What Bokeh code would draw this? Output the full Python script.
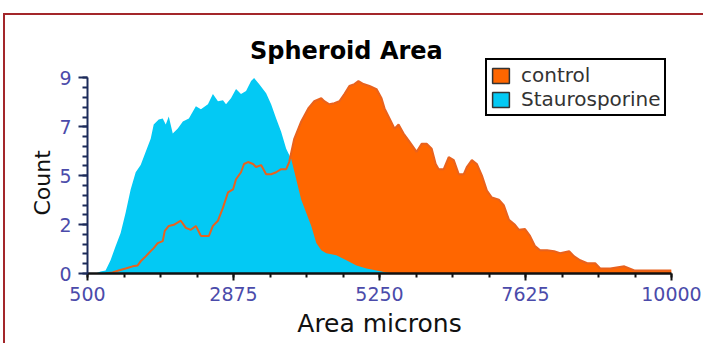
from bokeh.plotting import figure
from bokeh.models import (FixedTicker, CustomJSTickFormatter, Label, Legend,
                          LegendItem, Range1d, Title)
from bokeh.embed import file_html
from bokeh.resources import INLINE

# ---------------- data ----------------
title_text = "Spheroid Area"
series_names = ["control", "Staurosporine"]
x_label = "Area microns"
y_label = "Count"

stauro_area = [549, 631, 712, 794, 875, 957, 1039, 1120, 1202, 1284, 1365, 1447,
               1528, 1577, 1659, 1724, 1773, 1822, 1887, 1969, 2051, 2149, 2263,
               2345, 2459, 2540, 2622, 2704, 2753, 2834, 2916, 2997, 3079, 3161,
               3210, 3291, 3406, 3487, 3569, 3650, 3732, 3814, 3977, 4140, 4222,
               4303, 4385, 4548, 4711, 4875, 5038, 5201, 5364, 5527]
stauro_count = [0, 0, 0.09, 0.14, 0.61, 1.26, 1.87, 2.80, 3.87, 4.66, 4.99, 5.60,
                6.20, 6.86, 7.09, 7.14, 6.86, 7.23, 6.44, 6.67, 7.00, 7.14, 7.70,
                7.56, 7.79, 8.26, 7.93, 7.98, 7.79, 8.07, 8.49, 8.26, 8.40, 8.86,
                9.00, 8.72, 8.30, 7.79, 7.14, 6.53, 5.74, 5.27, 3.40, 2.19, 1.40,
                1.07, 0.93, 0.84, 0.61, 0.37, 0.23, 0.14, 0.05, 0]

control_area = [794, 908, 1006, 1120, 1235, 1316, 1365, 1447, 1528, 1577, 1643,
                1724, 1757, 1822, 1904, 2018, 2100, 2181, 2263, 2345, 2475, 2540,
                2622, 2704, 2785, 2867, 2916, 2997, 3046, 3112, 3193, 3242, 3324,
                3406, 3487, 3569, 3650, 3732, 3781, 3863, 3977, 4091, 4189, 4303,
                4352, 4434, 4515, 4597, 4679, 4760, 4842, 4907, 4989, 5087, 5201,
                5283, 5332, 5413, 5495, 5560, 5642, 5740, 5854, 5936, 6017, 6099,
                6164, 6213, 6295, 6376, 6458, 6540, 6621, 6670, 6752, 6833, 6915,
                6997, 7078, 7192, 7274, 7356, 7454, 7519, 7617, 7698, 7780, 7862,
                7976, 8090, 8188, 8335, 8417, 8515, 8629, 8759, 8841, 9004, 9233,
                9396, 9608, 9820, 9967, 10000]
control_count = [0, 0.05, 0.14, 0.23, 0.33, 0.37, 0.56, 0.79, 1.03, 1.17, 1.40,
                 1.49, 1.96, 2.19, 2.24, 2.43, 2.10, 2.01, 2.19, 1.73, 1.73, 2.19,
                 2.43, 3.03, 3.73, 3.87, 4.34, 4.66, 5.04, 5.13, 5.04, 4.90, 4.99,
                 4.57, 4.57, 4.66, 4.80, 4.80, 5.13, 6.20, 7.00, 7.60, 7.93, 8.07,
                 7.93, 7.79, 7.84, 7.93, 8.26, 8.63, 8.72, 8.86, 8.72, 8.63, 8.49,
                 8.07, 7.60, 7.14, 6.67, 6.86, 6.44, 6.06, 5.60, 5.97, 5.97, 5.74,
                 5.04, 4.80, 4.80, 5.36, 5.22, 4.57, 4.57, 4.90, 5.22, 5.04, 4.52,
                 3.82, 3.50, 3.40, 3.13, 2.47, 2.24, 2.01, 2.05, 1.73, 1.26, 1.07,
                 1.07, 1.03, 0.93, 1.03, 0.79, 0.61, 0.47, 0.47, 0.23, 0.23, 0.33,
                 0.14, 0.14, 0.14, 0.14, 0.14]

x_major = [500, 2875, 5250, 7625, 10000]
x_minor = [500 + 593.75 * k for k in range(17)]
y_major = [0, 2.25, 4.5, 6.75, 9]
y_minor = [round(0.45 * k, 2) for k in range(21)]

# ---------------- figure ----------------
p = figure(width=698, height=328, output_backend="svg", toolbar_location=None,
           x_range=Range1d(500, 10000), y_range=Range1d(0, 11.876),
           min_border_left=82, min_border_right=34, min_border_top=0,
           min_border_bottom=72)
# maroon frame: only its top and left edges are inside the window
p.margin = (13, 0, 0, 3)
p.styles = {"border-top": "2px solid #A3262A",
            "border-left": "2px solid #A3262A",
            "box-sizing": "content-box"}
p.background_fill_color = "white"
p.border_fill_color = "white"
p.outline_line_color = None
p.xgrid.visible = False
p.ygrid.visible = False

orange = "#FF6600"
cyan = "#03C9F4"

p.varea(x=control_area, y1=0, y2=control_count, fill_color=orange)
p.varea(x=stauro_area, y1=0, y2=stauro_count, fill_color=cyan)
p.line(x=control_area, y=control_count, line_color="#E8621E", line_width=2)

# legend swatches (renderers with no visible marks)
nan = float("nan")
r_c = p.quad(left=[nan], right=[nan], top=[nan], bottom=[nan], fill_color=orange,
             line_color="#333333", line_width=1.5)
r_s = p.quad(left=[nan], right=[nan], top=[nan], bottom=[nan], fill_color=cyan,
             line_color="#333333", line_width=1.5)
legend = Legend(items=[LegendItem(label=series_names[0], renderers=[r_c]),
                       LegendItem(label=series_names[1], renderers=[r_s])],
                location=(398, 157))
legend.label_text_font = "DejaVu Sans"
legend.label_text_font_size = "20px"
legend.label_text_color = "#333333"
legend.border_line_color = "black"
legend.border_line_alpha = 1
legend.border_line_width = 2
legend.background_fill_color = "white"
legend.background_fill_alpha = 1
legend.glyph_width = 21
legend.glyph_height = 19
legend.label_height = 19
legend.label_standoff = 10
legend.padding = 3
legend.spacing = 0
legend.margin = 0
p.add_layout(legend)

# title
p.add_layout(Label(x=4711, y=10.25, text=title_text, text_align="center",
                   text_baseline="alphabetic", text_font="DejaVu Sans",
                   text_font_style="bold", text_font_size="24px",
                   text_color="black"))

# axes
xa = p.xaxis[0]
xa.ticker = FixedTicker(ticks=x_major, minor_ticks=x_minor)
xa.axis_label = x_label
xa.axis_label_text_font = "DejaVu Sans"
xa.axis_label_text_font_size = "25px"
xa.axis_label_text_font_style = "normal"
xa.axis_label_text_color = "#111111"
xa.axis_label_standoff = 5
xa.major_label_text_font = "DejaVu Sans"
xa.major_label_text_font_size = "19px"
xa.major_label_text_color = "#4B4BAA"
xa.major_label_standoff = 6
xa.axis_line_color = "#111111"
xa.axis_line_width = 2.5
xa.major_tick_line_color = "#111111"
xa.major_tick_line_width = 2
xa.minor_tick_line_color = "#111111"
xa.minor_tick_line_width = 2
xa.major_tick_in = 0
xa.major_tick_out = 7
xa.minor_tick_in = 0
xa.minor_tick_out = 4
xa.bounds = (500, 10000)

ya = p.yaxis[0]
ya.ticker = FixedTicker(ticks=y_major, minor_ticks=y_minor)
ya.formatter = CustomJSTickFormatter(code="return Math.round(tick).toString();")
ya.major_label_text_font = "DejaVu Sans"
ya.major_label_text_font_size = "19px"
ya.major_label_text_color = "#4B4BAA"
ya.major_label_standoff = 7
ya.axis_line_color = "#1C2B5A"
ya.axis_line_width = 2
ya.major_tick_line_color = "#1C2B5A"
ya.major_tick_line_width = 2
ya.minor_tick_line_color = "#1C2B5A"
ya.minor_tick_line_width = 2
ya.major_tick_in = 0
ya.major_tick_out = 9
ya.minor_tick_in = 0
ya.minor_tick_out = 5
ya.bounds = (0, 9)

# y-axis title: a side title beyond the tick labels, level with the 0..9 span
p.add_layout(Title(text=y_label, align="left", offset=58, standoff=4,
                   vertical_align="bottom", text_font="DejaVu Sans",
                   text_font_size="22px", text_font_style="normal",
                   text_color="#111111"), "left")

open("out.html", "w").write(file_html(p, INLINE))
